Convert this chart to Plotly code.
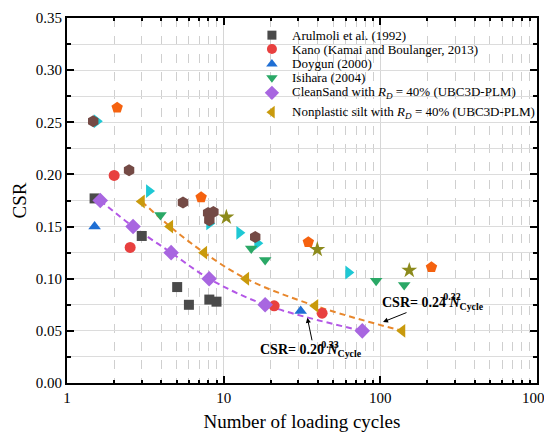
import plotly.graph_objects as go
import numpy as np

# ---- data ----
arul_x = [1.5, 3.0, 5.05, 6.0, 8.1, 9.0]
arul_y = [0.177, 0.141, 0.092, 0.075, 0.080, 0.078]

kano_x = [2.0, 2.53, 21.0, 42.5]
kano_y = [0.199, 0.130, 0.074, 0.067]

doy_x = [1.5, 31.0]
doy_y = [0.150, 0.069]

isi_x = [3.95, 15.0, 18.4, 94.0, 142.0]
isi_y = [0.161, 0.129, 0.118, 0.098, 0.094]

sand_x = [1.63, 2.64, 4.62, 8.08, 18.4, 76.7]
sand_y = [0.175, 0.150, 0.125, 0.100, 0.075, 0.050]

silt_x = [3.0, 4.55, 7.5, 13.9, 38.4, 138.0]
silt_y = [0.174, 0.150, 0.125, 0.100, 0.074, 0.050]

hex_x = [1.47, 2.49, 5.5, 7.96, 8.6, 8.1, 15.9]
hex_y = [0.251, 0.204, 0.173, 0.163, 0.164, 0.156, 0.140]

pent_x = [2.09, 7.18, 34.7, 212.0]
pent_y = [0.264, 0.178, 0.135, 0.111]

cyan_x = [1.55, 3.34, 8.1, 12.6, 16.4, 62.5]
cyan_y = [0.251, 0.184, 0.153, 0.144, 0.134, 0.106]

star_x = [10.4, 39.6, 153.0]
star_y = [0.159, 0.128, 0.108]

xtick_vals = [1, 10, 100, 1000]
xtick_text = ["1", "10", "100", "1000"]
minor_x = [m * d for d in (1, 10, 100) for m in range(2, 10)]

legend_names = [
    "Arulmoli et al. (1992)",
    "Kano (Kamai and Boulanger, 2013)",
    "Doygun (2000)",
    "Isihara (2004)",
    "CleanSand with <i>R</i><sub><i>D</i></sub> = 40% (UBC3D-PLM)",
    "Nonplastic silt with <i>R</i><sub><i>D</i></sub> = 40% (UBC3D-PLM)",
]

FONT = "Liberation Serif"

C_ARUL, C_KANO, C_DOY, C_ISI, C_SAND, C_SILT = "#4a4a4a", "#e8403f", "#1f6fd4", "#2aa866", "#a866e0", "#c99a0c"
styles = [("square", C_ARUL, 10), ("circle", C_KANO, 11), ("triangle-up", C_DOY, 11),
          ("triangle-down", C_ISI, 11), ("diamond", C_SAND, 12), ("triangle-left", C_SILT, 12)]

fig = go.Figure()

# dashed fit lines through the model points
fig.add_trace(go.Scatter(x=sand_x, y=sand_y, mode="lines", line=dict(color="#b357e6", width=2, dash="6px,4px", shape="spline"),
                         showlegend=False, hoverinfo="skip"))
fig.add_trace(go.Scatter(x=silt_x, y=silt_y, mode="lines", line=dict(color="#e8872c", width=2, dash="6px,4px", shape="spline"),
                         showlegend=False, hoverinfo="skip"))

def pts(x, y, sym, color, size):
    fig.add_trace(go.Scatter(x=x, y=y, mode="markers", showlegend=False,
                             marker=dict(symbol=sym, color=color, size=size, line=dict(width=0))))

pts(pent_x, pent_y, "pentagon", "#f5620f", 12)
pts(star_x, star_y, "star", "#8c8a1c", 12)
pts(cyan_x, cyan_y, "triangle-right", "#1ec8d4", 12)
pts(hex_x, hex_y, "hexagon", "#744a45", 12)
for (xs, ys), (sym, col, sz) in zip([(arul_x, arul_y), (kano_x, kano_y), (doy_x, doy_y), (isi_x, isi_y),
                                      (sand_x, sand_y), (silt_x, silt_y)], styles):
    pts(xs, ys, sym, col, sz)

# manual legend (tight rows like the reference), placed on an overlay axis in [0,1]
leg_mx = 0.436
leg_tx = 0.474
leg_rows = [0.953, 0.915, 0.874, 0.836, 0.795, 0.742]
for (sym, col, sz), ry in zip(styles, leg_rows):
    fig.add_trace(go.Scatter(x=[leg_mx], y=[ry], xaxis="x2", yaxis="y2", mode="markers", showlegend=False,
                             hoverinfo="skip", marker=dict(symbol=sym, color=col, size=sz - 1)))

ann_font = dict(family=FONT, size=14, color="black")
sup_font = dict(family=FONT, size=10, color="black")
annotations = []
for name, ry in zip(legend_names, leg_rows):
    annotations.append(dict(x=leg_tx, y=ry, xref="x domain", yref="y domain", xanchor="left", yanchor="middle",
                            showarrow=False, text=name, font=dict(family=FONT, size=13, color="black")))

annotations += [
    dict(x=np.log10(100), y=0.0765, xref="x", yref="y", xanchor="left", yanchor="middle", showarrow=False,
         text="<b>CSR= 0.24 <i>N</i><sub>Cycle</sub></b>", font=ann_font),
    dict(x=np.log10(232), y=0.0830, xref="x", yref="y", xanchor="left", yanchor="middle", showarrow=False,
         text="<b>-0.32</b>", font=sup_font),
    dict(x=np.log10(16.5), y=0.031, xref="x", yref="y", xanchor="left", yanchor="middle", showarrow=False,
         text="<b>CSR= 0.20 <i>N</i><sub>Cycle</sub></b>", font=ann_font),
    dict(x=np.log10(39.0), y=0.0365, xref="x", yref="y", xanchor="left", yanchor="middle", showarrow=False,
         text="<b>-0.33</b>", font=sup_font),
    dict(x=np.log10(104), y=0.0585, xref="x", yref="y", ax=25, ay=-10, showarrow=True, text="",
         arrowhead=2, arrowsize=1, arrowwidth=1, arrowcolor="black"),
    dict(x=np.log10(34.2), y=0.0625, xref="x", yref="y", ax=5, ay=24, showarrow=True, text="",
         arrowhead=2, arrowsize=1, arrowwidth=1, arrowcolor="black"),
]

shapes = [dict(type="rect", xref="x domain", yref="y domain", x0=0.415, x1=0.995, y0=0.715, y1=0.984,
               fillcolor="white", line=dict(width=0), layer="below")]

# page body adds an 8px offset, so the figure is sized/margined to land the plot where the reference has it
fig.update_layout(
    width=544, height=424,
    margin=dict(l=59, r=15, t=10, b=49),
    paper_bgcolor="white", plot_bgcolor="white",
    font=dict(family=FONT, size=15, color="black"),
    annotations=annotations, shapes=shapes, showlegend=False,
    xaxis=dict(type="log", range=[0, 3], tickvals=xtick_vals, ticktext=xtick_text, automargin=False,
               ticks="inside", ticklen=7, tickwidth=1.5, tickcolor="black",
               showline=True, linecolor="black", linewidth=2, mirror="allticks",
               showgrid=True, gridcolor="#d6d6d6", gridwidth=1,
               minor=dict(tickvals=minor_x, ticks="inside", ticklen=3, tickcolor="black",
                          showgrid=True, gridcolor="#cfcfcf", griddash="dash", gridwidth=1),
               title=dict(text="Number of loading cycles", font=dict(family=FONT, size=19), standoff=13),
               tickfont=dict(family=FONT, size=15), zeroline=False),
    yaxis=dict(range=[0, 0.35], dtick=0.05, tickformat=".2f", automargin=False,
               ticks="inside", ticklen=7, tickwidth=1.5, tickcolor="black",
               showline=True, linecolor="black", linewidth=2, mirror="allticks",
               showgrid=True, gridcolor="#dcdcdc", gridwidth=1,
               minor=dict(dtick=0.025, ticks="inside", ticklen=4, tickcolor="black",
                          showgrid=True, gridcolor="#dcdcdc", gridwidth=1),
               title=dict(text="CSR", font=dict(family=FONT, size=19), standoff=4),
               tickfont=dict(family=FONT, size=15), zeroline=False),
    xaxis2=dict(overlaying="x", range=[0, 1], visible=False, fixedrange=True),
    yaxis2=dict(overlaying="y", range=[0, 1], visible=False, fixedrange=True),
)

fig.write_html("out.html")
